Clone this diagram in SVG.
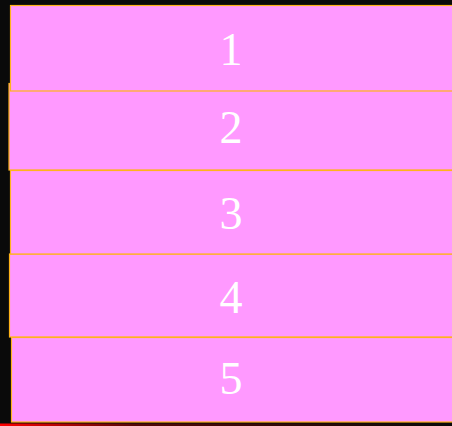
<svg xmlns="http://www.w3.org/2000/svg" width="452" height="426" viewBox="0 0 452 426">
<defs>
<style>
.box{fill:#ff99ff;stroke:#ffb31a;stroke-width:1.2}
.lbl{fill:#ffffff;font-family:"Liberation Serif","DejaVu Serif",serif;font-size:46px;text-anchor:middle}
</style>
<linearGradient id="red" x1="0" y1="0" x2="1" y2="0">
<stop offset="0" stop-color="#ff0000"/>
<stop offset="0.3" stop-color="#ff0000" stop-opacity="0.3"/>
<stop offset="1" stop-color="#ff0000" stop-opacity="0"/>
</linearGradient>
</defs>
<rect x="0" y="0" width="452" height="426" fill="#0a0a0a"/>
<rect x="0" y="423.5" width="452" height="2.5" fill="url(#red)"/>
<g id="node2"><rect class="box" x="9" y="83.5" width="450" height="86.5"/><text class="lbl" x="231" y="143">2</text></g>
<g id="node1"><rect class="box" x="10.5" y="5.5" width="450" height="85.5"/><text class="lbl" x="231" y="64.5">1</text></g>
<g id="node4"><rect class="box" x="9.5" y="254" width="450" height="83"/><text class="lbl" x="231" y="313">4</text></g>
<g id="node3"><rect class="box" x="10.5" y="170.5" width="450" height="83.5"/><text class="lbl" x="231" y="229">3</text></g>
<g id="node5"><rect class="box" x="11.5" y="337.5" width="450" height="84.5"/><text class="lbl" x="231" y="394">5</text></g>
<g id="connectors"></g>
</svg>
